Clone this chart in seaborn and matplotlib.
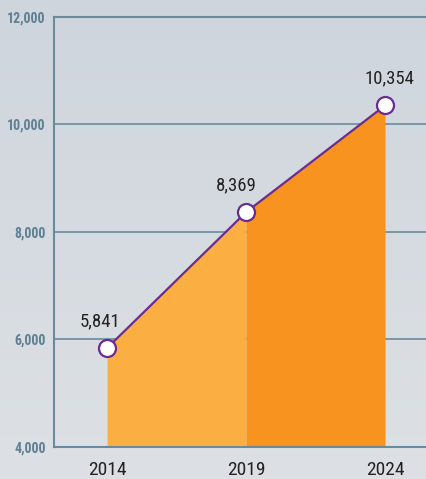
import numpy as np
import pandas as pd
import matplotlib
matplotlib.use("Agg")
import matplotlib.pyplot as plt
from matplotlib import font_manager
import seaborn as sns

years = [2014, 2019, 2024]
values = [5841, 8369, 10354]
value_labels = ["5,841", "8,369", "10,354"]
y_ticks = [4000, 6000, 8000, 10000, 12000]
y_tick_labels = ["4,000", "6,000", "8,000", "10,000", "12,000"]

df = pd.DataFrame({"year": years, "value": values})

# look for a narrow face, the reference uses a condensed sans
fonts = [(f.name, f.stretch) for f in font_manager.fontManager.ttflist]
names = {n for n, _ in fonts}
narrow_family, stretch = "DejaVu Sans", "normal"
for cand in ["Liberation Sans Narrow", "Roboto Condensed", "Open Sans Condensed", "DejaVu Sans Condensed"]:
    if cand in names:
        narrow_family = cand
        break
else:
    for n, s in fonts:
        if s in ("condensed", "semi-condensed", 75, 87.5) or (isinstance(s, int) and s < 100):
            narrow_family, stretch = n, s
            break

sns.set_style("white")
plt.rcParams["font.family"] = [narrow_family, "DejaVu Sans"]

fig = plt.figure(figsize=(4.27, 4.79), dpi=100)

# soft gradient background
bg = fig.add_axes([0, 0, 1, 1], zorder=-10)
grad = np.linspace(0, 1, 256).reshape(-1, 1)
cmap = matplotlib.colors.LinearSegmentedColormap.from_list("bg", ["#cfd5dd", "#dde1e5"])
bg.imshow(grad, aspect="auto", cmap=cmap, extent=[0, 1, 0, 1], origin="upper")
bg.axis("off")

ax = fig.add_axes([54 / 427, 32 / 479, 1 - 54 / 427, (447 - 17) / 479])
ax.patch.set_alpha(0)

line_col = "#6a2c91"
grid_col = "#6b8a9b"

# filled segments under the line
ax.fill_between(years[:2], [4000, 4000], values[:2], color="#fbae42", lw=0, zorder=1)
ax.fill_between(years[1:], [4000, 4000], values[1:], color="#f7931e", lw=0, zorder=1)

sns.lineplot(data=df, x="year", y="value", ax=ax, color=line_col, lw=1.6, zorder=3)
ax.scatter(years, values, s=150, facecolor="white", edgecolor=line_col, linewidth=1.6, zorder=4)

offsets = [-5, -7, 3]
for x, v, lab, dx in zip(years, values, value_labels, offsets):
    ax.annotate(lab, (x, v), xytext=(dx, 13), textcoords="offset points",
                ha="center", va="bottom", fontsize=13.5, color="#222222",
                fontstretch=stretch)

ax.set_xlim(2012.09, 2025.51)
ax.set_ylim(4000, 12000)
ax.set_yticks(y_ticks)
ax.set_yticklabels(y_tick_labels, color="#5f7f92", fontsize=10, fontweight="bold",
                   fontstretch=stretch)
ax.set_xticks(years)
ax.set_xticklabels([str(y) for y in years], fontsize=14, color="#222222",
                   fontstretch=stretch)
ax.tick_params(axis="y", length=0, pad=6)
ax.tick_params(axis="x", length=0, pad=10)
ax.set_xlabel("")
ax.set_ylabel("")

for yv in y_ticks[1:-1]:
    ax.axhline(yv, color=grid_col, lw=1.2, zorder=0.5)

for side in ["left", "top", "bottom"]:
    ax.spines[side].set_color(grid_col)
    ax.spines[side].set_linewidth(1.5)
ax.spines["right"].set_visible(False)
ax.spines["bottom"].set_zorder(5)

fig.savefig("out.png", dpi=100)
